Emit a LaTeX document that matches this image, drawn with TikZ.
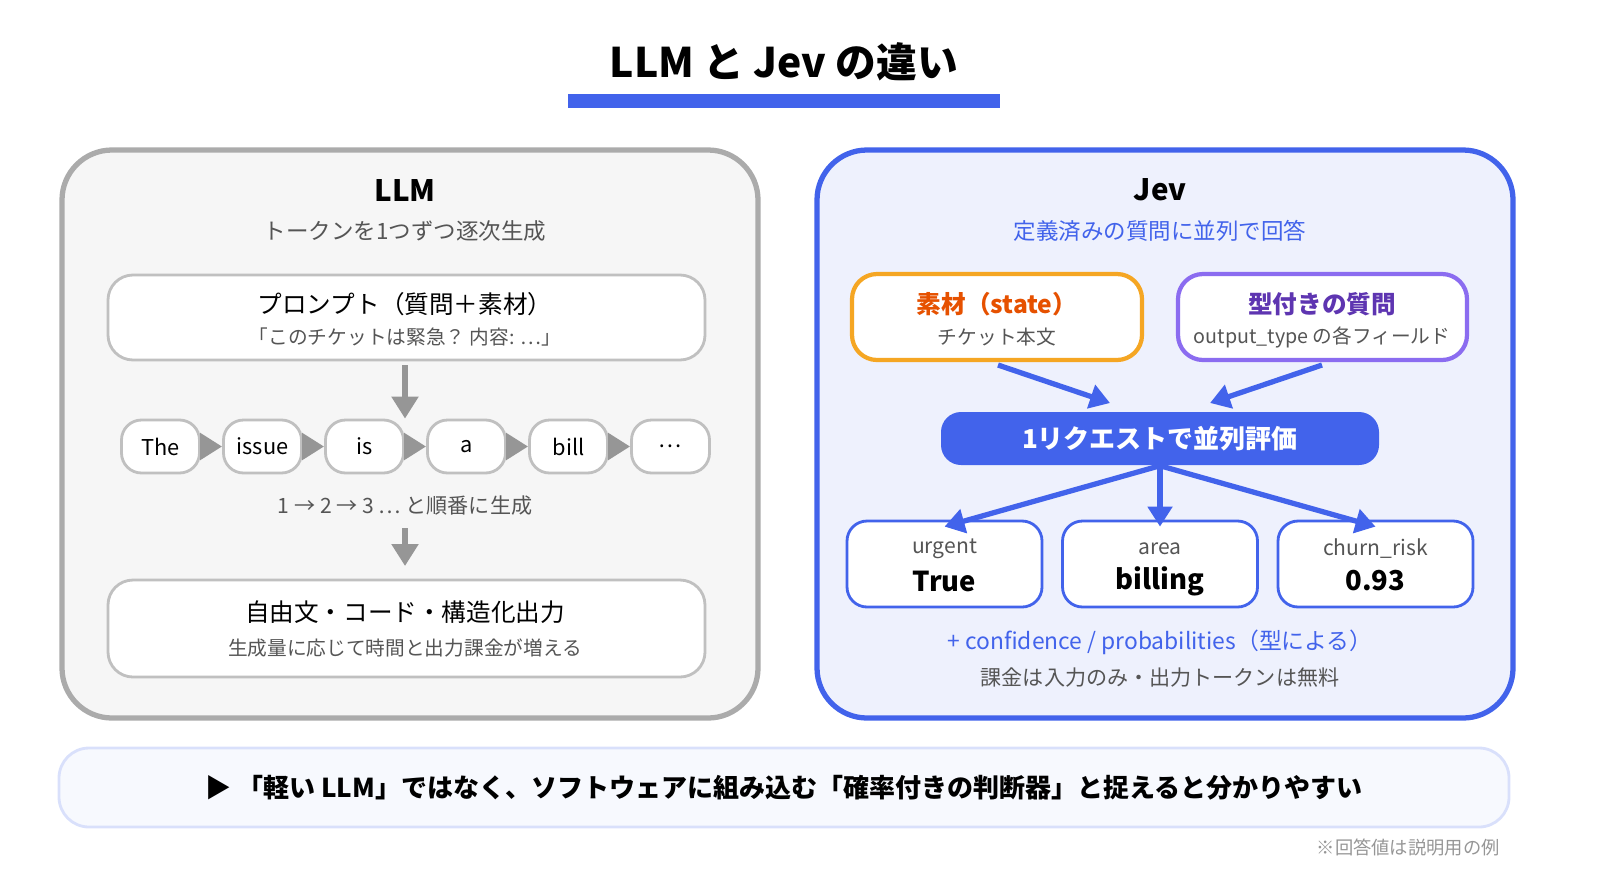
\documentclass[tikz,border=0pt]{standalone}
\usepackage{fontspec}
\setmainfont{Noto Sans CJK JP}
\usetikzlibrary{positioning,arrows.meta,calc}
\definecolor{myblue}{RGB}{66,99,235}
\definecolor{mygray}{RGB}{150,150,150}
\definecolor{myorange}{RGB}{245,166,35}
\definecolor{myred}{RGB}{230,81,0}
\definecolor{mypurple}{RGB}{139,108,240}
\definecolor{mydpurple}{RGB}{94,53,177}
\definecolor{mytext}{RGB}{85,85,85}

\begin{document}
\begin{tikzpicture}[
	panel/.style={draw,rounded corners=5mm,line width=1.5pt},
	box/.style={draw=mygray!60,fill=white,rounded corners=2.5mm,line width=0.8pt},
	tok/.style={draw=mygray!60,fill=white,rounded corners=2mm,line width=0.8pt,minimum width=7.8mm,minimum height=5.3mm,font=\fontsize{6.2}{7}\selectfont},
	res/.style={draw=myblue,fill=white,rounded corners=2mm,line width=0.8pt,minimum width=19.5mm,minimum height=8.6mm},
	garrow/.style={draw=mygray,line width=1.5pt,-{Triangle[length=2.2mm,width=2.6mm]}},
	barrow/.style={draw=myblue,line width=1.5pt,-{Triangle[length=2mm,width=2.4mm]}},
	sub/.style={text=mytext,font=\fontsize{5.6}{6.5}\selectfont},
	]
	\useasboundingbox (0,0) rectangle (16,-8.8);

	% the title
	\node (title) at (7.84,-0.62) {\fontsize{11.6}{13}\selectfont\bfseries LLM と Jev の違い};
	\draw[myblue,line width=1.4mm] (5.68,-1.01) -- (10.0,-1.01);

	% the panels
	\draw[panel,draw=mygray!80,fill=gray!7] (0.62,-1.5) rectangle (7.58,-7.18);
	\draw[panel,draw=myblue,fill=myblue!9] (8.17,-1.5) rectangle (15.13,-7.18);

	% the LLM side
	\node (llm) at (4.05,-1.9) {\fontsize{8.4}{10}\selectfont\bfseries LLM};
	\node[sub,font=\fontsize{6.4}{7}\selectfont] (llmsub) at (4.05,-2.31) {トークンを1つずつ逐次生成};
	\draw[box] (1.08,-2.75) rectangle (7.05,-3.6);
	\node (prompt) at (4.05,-3.04) {\fontsize{7}{8}\selectfont プロンプト（質問＋素材）};
	\node[sub] (promptsub) at (4.05,-3.37) {「このチケットは緊急？ 内容: …」};
	\foreach \w [count=\i] in {The,issue,is,a,bill,…}
	\node[tok] (t\i) at ({1.605+1.02*(\i-1)},-4.465) {\w};
	\foreach \i [evaluate=\i as \j using int(\i+1)] in {1,...,5}
	\draw[garrow] (t\i) -- (t\j);
	\node[sub,font=\fontsize{6}{7}\selectfont] (order) at (4.05,-5.06) {1 → 2 → 3 … と順番に生成};
	\draw[box] (1.08,-5.8) rectangle (7.05,-6.77);
	\node (out) at (4.05,-6.12) {\fontsize{7}{8}\selectfont 自由文・コード・構造化出力};
	\node[sub] (outsub) at (4.05,-6.48) {生成量に応じて時間と出力課金が増える};
	\coordinate (a1) at (4.05,-3.65);
	\coordinate (a2) at (4.05,-5.28);
	\draw[garrow] (a1) -- (t3.north -| a1);
	\draw[garrow] (a2) -- ++(0,-0.38);

	% the Jev side
	\node (jev) at (11.6,-1.9) {\fontsize{8.4}{10}\selectfont\bfseries Jev};
	\node[text=myblue,font=\fontsize{6.4}{7}\selectfont] (jevsub) at (11.6,-2.31) {定義済みの質問に並列で回答};
	\draw[box,draw=myorange,line width=1.2pt] (8.52,-2.74) rectangle (11.42,-3.6);
	\node[text=myred] (state) at (9.97,-3.04) {\fontsize{7}{8}\selectfont\bfseries 素材（state）};
	\node[sub] at (9.97,-3.37) {チケット本文};
	\draw[box,draw=mypurple,line width=1.2pt] (11.78,-2.74) rectangle (14.67,-3.6);
	\node[text=mydpurple] (typed) at (13.22,-3.04) {\fontsize{7}{8}\selectfont\bfseries 型付きの質問};
	\node[sub] at (13.22,-3.37) {output\_type の各フィールド};
	\node[fill=myblue,text=white,rounded corners=2mm,minimum width=43.8mm,minimum height=5.3mm] (eval) at (11.6,-4.385) {\fontsize{7.4}{9}\selectfont\bfseries 1リクエストで並列評価};
	\coordinate (s1) at (9.98,-3.65);
	\coordinate (s2) at (13.22,-3.65);
	\draw[barrow] (s1) -- (11.1,-4.03);
	\draw[barrow] (s2) -- (12.1,-4.03);
	\foreach \k/\v [count=\i] in {urgent/True,area/billing,churn\_risk/0.93}
	{
	\node[res] (r\i) at ({9.445+2.155*(\i-1)},-5.64) {};
	\node[sub,font=\fontsize{6}{7}\selectfont] at ($(r\i)+(0,0.15)$) {\k};
	\node at ($(r\i)+(0,-0.17)$) {\fontsize{7.8}{9}\selectfont\bfseries \v};
	\draw[barrow] (eval.south) -- ($(r\i.north)+(0,-0.07)$);
	}
	\node[text=myblue,font=\fontsize{6.5}{8}\selectfont] (conf) at (11.6,-6.42) {+ confidence / probabilities（型による）};
	\node[sub,font=\fontsize{6}{7}\selectfont] (bill) at (11.6,-6.78) {課金は入力のみ・出力トークンは無料};

	% the banner
	\draw[rounded corners=3mm,draw=myblue!20,fill=myblue!4,line width=0.8pt] (0.59,-7.48) rectangle (15.09,-8.27);
	\node (msg) at (7.84,-7.88) {\fontsize{7.4}{9}\selectfont\bfseries ▶ 「軽い LLM」ではなく、ソフトウェアに組み込む「確率付きの判断器」と捉えると分かりやすい};
	\node[sub,font=\fontsize{5.2}{6}\selectfont,anchor=east,text=mygray] (note) at (15.12,-8.47) {※回答値は説明用の例};
\end{tikzpicture}
\end{document}
